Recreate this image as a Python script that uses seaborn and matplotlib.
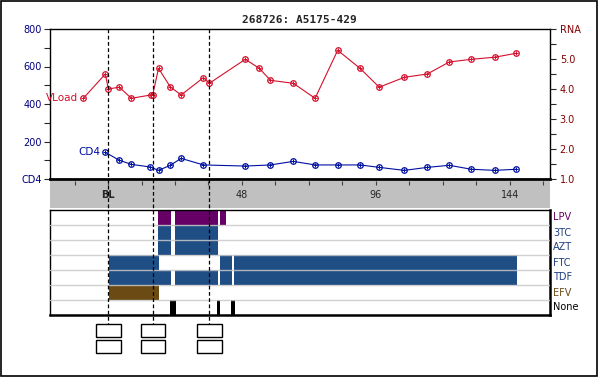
import matplotlib
matplotlib.use("Agg")
import matplotlib.pyplot as plt
from matplotlib.patches import Rectangle
import seaborn as sns
import pandas as pd

# ---------------- data ----------------
title = "268726: A5175-429"

vl_weeks = [-8.85, -0.97, 0.1, 4.05, 8.35, 15.3, 16.0, 18.1, 22.3, 26.2, 34.2, 36.3,
            49.2, 54.2, 58.2, 66.4, 74.2, 82.3, 90.3, 97.2, 106.2, 114.4, 122.3,
            130.2, 138.6, 146.3]
vl_rna = [3.69, 4.50, 4.00, 4.06, 3.69, 3.80, 3.80, 4.69, 4.07, 3.80, 4.38, 4.19,
          4.99, 4.69, 4.29, 4.19, 3.69, 5.29, 4.69, 4.06, 4.39, 4.50, 4.90,
          4.99, 5.06, 5.19]

cd4_weeks = [-0.97, 4.05, 8.35, 15.2, 18.1, 22.3, 26.2, 34.2, 49.2, 58.2, 66.4,
             74.2, 82.3, 90.3, 97.2, 106.2, 114.4, 122.3, 130.2, 138.6, 146.3]
cd4_vals = [142, 100, 78, 64, 46, 73, 110, 75, 69, 75, 94,
            75, 75, 75, 62, 46, 62, 73, 52, 46, 52]

visit_weeks = [0.1, 16.2, 36.3]

xtick_pos = [0, 48, 96, 144]
xtick_labels = ["BL", "48", "96", "144"]

drugs = ["LPV", "3TC", "AZT", "FTC", "TDF", "EFV", "None"]
drug_colors = {"LPV": "#660066", "3TC": "#1f4e85", "AZT": "#1f4e85",
               "FTC": "#1f4e85", "TDF": "#1f4e85", "EFV": "#6b4a14", "None": "#000000"}
label_colors = {"LPV": "#660066", "3TC": "#1f3f7f", "AZT": "#1f3f7f",
                "FTC": "#1f3f7f", "TDF": "#1f3f7f", "EFV": "#6b4a14", "None": "#000000"}
drug_starts = {
    "LPV": [17.9, 24.0, 40.1],
    "3TC": [17.9, 24.0],
    "AZT": [17.9, 24.0],
    "FTC": [0.2, 40.1, 45.3],
    "TDF": [0.2, 24.0, 40.1, 45.3],
    "EFV": [0.2],
    "None": [22.2, 38.9, 43.9],
}
drug_ends = {
    "LPV": [22.6, 39.4, 42.3],
    "3TC": [22.6, 39.4],
    "AZT": [22.6, 39.4],
    "FTC": [18.3, 44.4, 146.6],
    "TDF": [22.6, 39.4, 44.4, 146.6],
    "EFV": [18.3],
    "None": [24.3, 40.3, 45.5],
}

# ---------------- style ----------------
sns.set_style("white")
plt.rcParams["font.family"] = ["DejaVu Sans"]

W, H = 600, 377
fig = plt.figure(figsize=(6.0, 3.77), dpi=100)
XLIM = (-20.8, 158.4)

def fx(px):
    return px / W

def fy(py):
    return 1 - py / H

LEFT_C = "#000080"
RIGHT_C = "#800000"
VL_C = "#d4102c"
CD4_C = "#0010a0"

# ---------------- top panel ----------------
ax = fig.add_axes([fx(50), fy(179), fx(500), 150 / H])
ax.set_xlim(*XLIM)
ax.set_ylim(0, 800)
df_cd4 = pd.DataFrame({"week": cd4_weeks, "cd4": cd4_vals})
sns.lineplot(data=df_cd4, x="week", y="cd4", ax=ax, color=CD4_C, linewidth=0.8,
             estimator=None, marker="o", markersize=4, markerfacecolor="none",
             markeredgecolor=CD4_C, markeredgewidth=0.9)
ax.scatter(cd4_weeks, cd4_vals, marker="+", s=8, color=CD4_C, linewidths=0.7, zorder=4)
ax.set_xlabel("")
ax.set_ylabel("")
ax.set_yticks(range(0, 801, 100))
ax.set_yticklabels(["CD4", "", "200", "", "400", "", "600", "", "800"],
                   color=LEFT_C, fontsize=7)
ax.set_xticks([])
ax.tick_params(axis="y", direction="out", length=4, width=0.8, pad=2, left=True)
for s in ["top", "left", "right"]:
    ax.spines[s].set_linewidth(1)
    ax.spines[s].set_color("black")
ax.spines["bottom"].set_linewidth(2)
ax.spines["bottom"].set_color("black")

ax2 = ax.twinx()
ax2.set_ylim(1, 6)
ax2.set_xlim(*XLIM)
df_vl = pd.DataFrame({"week": vl_weeks, "rna": vl_rna})
sns.lineplot(data=df_vl, x="week", y="rna", ax=ax2, color=VL_C, linewidth=0.8,
             estimator=None, marker="o", markersize=4, markerfacecolor="none",
             markeredgecolor=VL_C, markeredgewidth=0.9)
ax2.scatter(vl_weeks, vl_rna, marker="+", s=8, color=VL_C, linewidths=0.7, zorder=4)
ax2.set_xlabel("")
ax2.set_ylabel("")
ax2.set_yticks([1, 1.5, 2, 2.5, 3, 3.5, 4, 4.5, 5, 5.5, 6])
ax2.set_yticklabels(["1.0", "", "2.0", "", "3.0", "", "4.0", "", "5.0", "", "RNA"],
                    color=RIGHT_C, fontsize=7)
ax2.tick_params(axis="y", direction="out", length=4, width=0.8, pad=3, right=True)
for s in ax2.spines.values():
    s.set_visible(False)

ax.text(fx(78), fy(98), "VLoad", transform=fig.transFigure, ha="right", va="center",
        color=VL_C, fontsize=7.5)
ax.text(fx(100), fy(152), "CD4", transform=fig.transFigure, ha="right", va="center",
        color=CD4_C, fontsize=7.5)

fig.text(fx(299), fy(20), title, ha="center", va="center", fontsize=8,
         fontweight="bold", family="DejaVu Sans Mono")

# ---------------- grey band (x axis) ----------------
axb = fig.add_axes([fx(50), fy(208), fx(500), 27 / H])
axb.set_facecolor("#c0c0c0")
axb.set_xlim(*XLIM)
axb.set_ylim(0, 1)
axb.set_xticks(list(range(-12, 157, 12)))
axb.set_xticklabels([])
axb.xaxis.set_ticks_position("top")
axb.tick_params(axis="x", direction="in", length=3, width=0.8, color="#404040", top=True)
axb.set_yticks([])
for s in axb.spines.values():
    s.set_visible(False)
for p, lab in zip(xtick_pos, xtick_labels):
    axb.text(p, 0.5, lab, ha="center", va="center", fontsize=7,
             fontweight="bold" if lab == "BL" else "normal")

# ---------------- drug panel ----------------
axd = fig.add_axes([fx(50), fy(315), fx(500), 105 / H])
axd.set_xlim(*XLIM)
axd.set_ylim(len(drugs), 0)
for i, d in enumerate(drugs):
    starts = drug_starts[d]
    ends = drug_ends[d]
    widths = [e - s for s, e in zip(starts, ends)]
    axd.barh([i + 0.5] * len(starts), widths, left=starts, height=1.0,
             color=drug_colors[d], linewidth=0, zorder=2)
    axd.text(1.006, 1 - (i + 0.5) / len(drugs), d, transform=axd.transAxes,
             ha="left", va="center", fontsize=7, color=label_colors[d])
for i in range(1, len(drugs)):
    axd.axhline(i, color="#c8c8c8", linewidth=1, zorder=3, alpha=0.85)
axd.set_xticks([])
axd.set_yticks([])
for s in ["top", "left"]:
    axd.spines[s].set_linewidth(1)
    axd.spines[s].set_color("black")
for s in ["bottom", "right"]:
    axd.spines[s].set_linewidth(1.8)
    axd.spines[s].set_color("black")

# ---------------- overlay: visit lines and boxes ----------------
axo = fig.add_axes([fx(50), 0, fx(500), 1])
axo.set_xlim(*XLIM)
axo.set_ylim(H, 0)
axo.axis("off")
axo.patch.set_alpha(0)
axo.vlines(visit_weeks, 29, 324, colors="black", linestyles=(0, (3, 2)), linewidth=0.9)
px_per_wk = 500 / (XLIM[1] - XLIM[0])
bw = 24.5 / px_per_wk
for w in visit_weeks:
    for y0 in (324, 340):
        axo.add_patch(Rectangle((w - bw / 2, y0), bw, 13.3, facecolor="white",
                                edgecolor="black", linewidth=1))

# figure border
fig.patches.append(Rectangle((0.001, 0.002), 0.994, 0.996, transform=fig.transFigure,
                             fill=False, edgecolor="black", linewidth=1.2))

fig.savefig("out.png", dpi=100)
